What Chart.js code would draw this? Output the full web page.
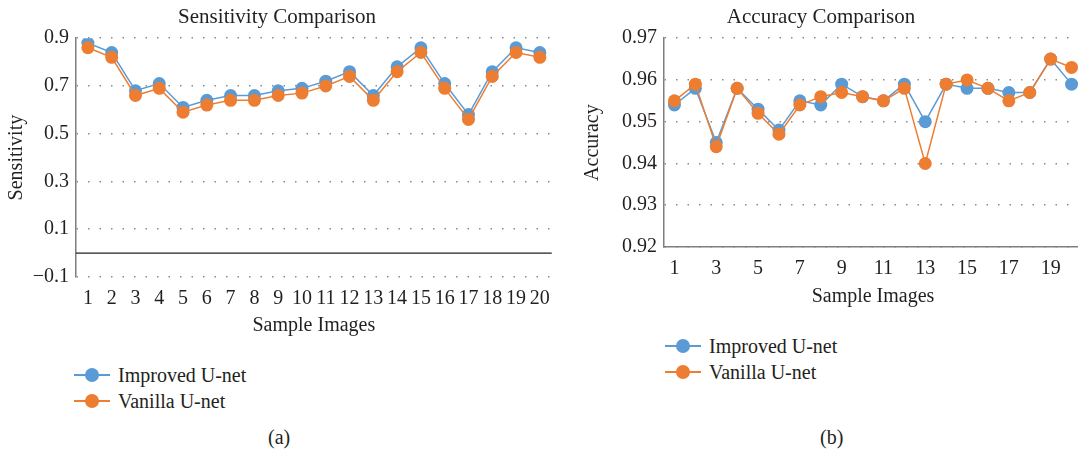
<!DOCTYPE html>
<html>
<head>
<meta charset="utf-8">
<script src="https://cdn.jsdelivr.net/npm/chart.js@4.4.1/dist/chart.umd.min.js"></script>
<style>
  html, body { margin: 0; padding: 0; background: #fff; overflow: hidden; width: 1078px; height: 452px; }
  body { position: relative; font-family: 'Liberation Serif', serif; color: #231f20; }
  .box { position: absolute; }
  .legend { position: absolute; font-size: 20px; }
  .item { position: relative; height: 26px; line-height: 26px; padding-left: 44px; }
  .item .ln { position: absolute; left: 0; top: 12px; width: 36px; height: 2px; }
  .item .dt { position: absolute; left: 11px; top: 6px; width: 14px; height: 14px; border-radius: 50%; }
  .cap { position: absolute; font-size: 20px; }
</style>
</head>
<body>
<div class="box" style="left:0;top:0;width:560px;height:339px"><canvas id="sensChart"></canvas></div>
<div class="box" style="left:560px;top:0;width:530px;height:310px"><canvas id="accChart"></canvas></div>
<div class="legend" id="legA" style="left:74px;top:362px"></div>
<div class="legend" id="legB" style="left:665px;top:333px"></div>
<div class="cap" style="left:268px;top:426px">(a)</div>
<div class="cap" style="left:820px;top:426px">(b)</div>
<script>
const sampleLabels = ['1', '2', '3', '4', '5', '6', '7', '8', '9', '10',
  '11', '12', '13', '14', '15', '16', '17', '18', '19', '20'];
const seriesNames = ['Improved U-net', 'Vanilla U-net'];
const seriesColors = ['#5B9BD5', '#ED7D31'];

const sensImproved = [0.88, 0.84, 0.68, 0.71, 0.61, 0.64, 0.66, 0.66, 0.68, 0.69,
  0.72, 0.76, 0.66, 0.78, 0.86, 0.71, 0.58, 0.76, 0.86, 0.84];
const sensVanilla = [0.86, 0.82, 0.66, 0.69, 0.59, 0.62, 0.64, 0.64, 0.66, 0.67,
  0.70, 0.74, 0.64, 0.76, 0.84, 0.69, 0.56, 0.74, 0.84, 0.82];

const accImproved = [0.954, 0.958, 0.945, 0.958, 0.953, 0.948, 0.955, 0.954, 0.959, 0.956,
  0.955, 0.959, 0.950, 0.959, 0.958, 0.958, 0.957, 0.957, 0.965, 0.959];
const accVanilla = [0.955, 0.959, 0.944, 0.958, 0.952, 0.947, 0.954, 0.956, 0.957, 0.956,
  0.955, 0.958, 0.940, 0.959, 0.960, 0.958, 0.955, 0.957, 0.965, 0.963];

const textColor = '#231f20';
const font = { family: "'Liberation Serif', serif", size: 20 };
Chart.defaults.font.family = font.family;
Chart.defaults.color = textColor;

function makeDatasets(a, b) {
  return [a, b].map((vals, i) => ({
    label: seriesNames[i],
    data: vals,
    borderColor: seriesColors[i],
    backgroundColor: seriesColors[i],
    pointBackgroundColor: seriesColors[i],
    pointBorderWidth: 0,
    pointRadius: 6.5,
    borderWidth: 1.5,
    tension: 0,
    order: i === 0 ? 1 : 0
  }));
}

// solid line at zero for the sensitivity chart
const zeroLine = {
  id: 'zeroLine',
  beforeDatasetsDraw(chart) {
    const y = chart.scales.y.getPixelForValue(0);
    const { left, right } = chart.chartArea;
    const ctx = chart.ctx;
    ctx.save();
    ctx.strokeStyle = '#231f20';
    ctx.lineWidth = 1.2;
    ctx.beginPath();
    ctx.moveTo(left, y);
    ctx.lineTo(right, y);
    ctx.stroke();
    ctx.restore();
  }
};

function baseOptions(opt) {
  return {
    responsive: true,
    maintainAspectRatio: false,
    animation: false,
    layout: { padding: { right: opt.padRight, left: 0, top: 0, bottom: 0 } },
    plugins: {
      legend: { display: false },
      tooltip: { enabled: false },
      title: {
        display: true,
        text: opt.title,
        font: { family: font.family, size: 21, weight: 'normal' },
        color: textColor,
        padding: { top: 5, bottom: 8 }
      }
    },
    scales: {
      x: {
        offset: true,
        grid: { display: false, drawTicks: false },
        border: { display: opt.xBorder, color: '#7f7f7f', width: 1.5 },
        ticks: {
          font: font, color: textColor, padding: 10,
          autoSkip: false, maxRotation: 0,
          callback: opt.xTick
        },
        title: { display: true, text: 'Sample Images', font: font, color: textColor, padding: { top: 4, bottom: 1 } },
        afterFit: s => { s.height = opt.xHeight; }
      },
      y: {
        min: opt.min, max: opt.max,
        grid: { color: '#8c8c8c', lineWidth: 1.5, drawTicks: false },
        border: { display: true, color: '#7f7f7f', width: 1.5, dash: [1.5, 10] },
        ticks: { stepSize: opt.step, font: font, color: textColor, padding: 7, callback: opt.yTick },
        title: { display: true, text: opt.yTitle, font: font, color: textColor, padding: { top: opt.yTitlePad, bottom: 0 } },
        afterFit: s => { s.width = opt.yWidth; }
      }
    }
  };
}

new Chart(document.getElementById('sensChart'), {
  type: 'line',
  data: { labels: sampleLabels, datasets: makeDatasets(sensImproved, sensVanilla) },
  options: baseOptions({
    title: 'Sensitivity Comparison', yTitle: 'Sensitivity',
    min: -0.1, max: 0.9, step: 0.2,
    yTick: v => (v < 0 ? '\u2212' : '') + Math.abs(v).toFixed(1),
    xTick: function (v, i) { return sampleLabels[i]; },
    xBorder: false, xHeight: 62, yWidth: 76, yTitlePad: 5, padRight: 6
  }),
  plugins: [zeroLine]
});

new Chart(document.getElementById('accChart'), {
  type: 'line',
  data: { labels: sampleLabels, datasets: makeDatasets(accImproved, accVanilla) },
  options: baseOptions({
    title: 'Accuracy Comparison', yTitle: 'Accuracy',
    min: 0.92, max: 0.97, step: 0.01,
    yTick: v => v.toFixed(2),
    xTick: function (v, i) { return i % 2 === 0 ? sampleLabels[i] : ''; },
    xBorder: true, xHeight: 63, yWidth: 104, yTitlePad: 21, padRight: 8
  })
});

// legends below each chart
['legA', 'legB'].forEach(id => {
  const el = document.getElementById(id);
  seriesNames.forEach((name, i) => {
    const item = document.createElement('div');
    item.className = 'item';
    item.innerHTML = '<span class="ln" style="background:' + seriesColors[i] + '"></span>' +
      '<span class="dt" style="background:' + seriesColors[i] + '"></span>' + name;
    el.appendChild(item);
  });
});
</script>
</body>
</html>
